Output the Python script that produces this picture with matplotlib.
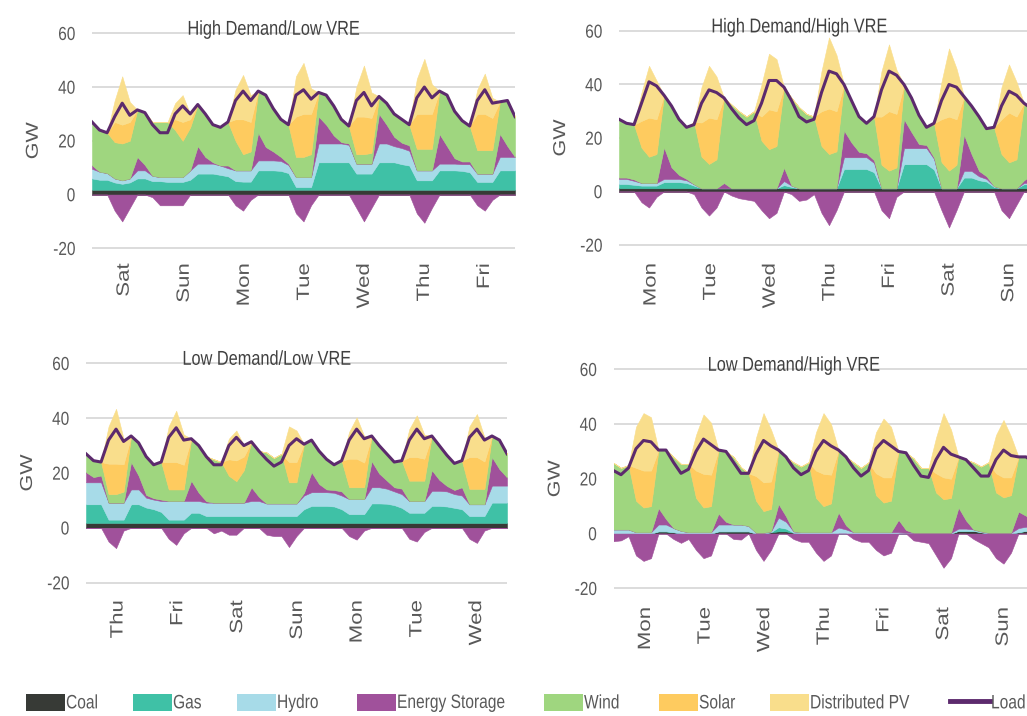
import matplotlib
matplotlib.use("Agg")
import matplotlib.pyplot as plt
from matplotlib.patches import Rectangle
from matplotlib.lines import Line2D
from matplotlib.patheffects import AbstractPathEffect
from matplotlib.transforms import Affine2D
import numpy as np

# one week, every 3 hours (hour 0 ... 168)
hours = np.arange(0, 169, 3)

# ---------------- High Demand / Low VRE ----------------
hdlv_days = ["Sat", "Sun", "Mon", "Tue", "Wed", "Thu", "Fri"]
hdlv_load = [27, 24, 23, 29, 34, 29.5, 31.5, 30.5,
             26, 23, 23, 30, 33, 30, 33.5, 30,
             26, 25, 27, 35, 38.5, 35, 38.5, 37,
             32, 28, 26, 37, 39, 35.5, 38, 37,
             33, 28, 25.5, 35, 38, 33, 36.5, 34,
             30, 28, 26, 36, 40, 36, 38.5, 37,
             31, 27.5, 25.5, 35, 39, 34, 34.5, 35,
             29]
hdlv_coal = [1.8] * 57
hdlv_gas = [4.2, 3.7, 3.7, 2.7, 2.2, 2.7, 4.2, 4.2,
            3.2, 3.2, 2.9, 2.9, 2.9, 3.7, 6, 6,
            6, 5.5, 5, 3.2, 3, 3, 7.2, 7.2,
            7.2, 7, 6.2, 1, 1, 1, 10.2, 10.2,
            10.2, 10.2, 10.2, 6, 6, 6, 10.2, 10.2,
            10.2, 9.5, 9, 3.5, 3.5, 3.5, 7.2, 7.2,
            7.2, 7, 6.5, 2.9, 2.9, 2.9, 7.2, 7.2,
            7.2]
hdlv_hydro = [3.6, 3, 2.5, 1.5, 1.3, 1.5, 3, 3,
              2, 1.5, 1.8, 1.8, 1.8, 3.5, 3.7, 3.7,
              3.7, 3.5, 3, 4, 4.2, 4.2, 3.7, 3.7,
              3.7, 3.7, 3, 3.7, 3.7, 3.7, 7, 7,
              7, 7, 6.5, 3.7, 3.7, 3.7, 7, 7,
              6, 6, 5.5, 3.7, 3.7, 3.7, 2.5, 2.5,
              2.5, 2.5, 3, 3.1, 3.1, 3.1, 5, 5,
              5]
hdlv_storage = [1.3, 0, 0, -6, -10, -5, 5, 2,
                -1, -4, -4, -4, -4, 0, 6.5, 2.5,
                0.5, 0, 1, -4, -6, -2, 10.3, 5,
                3.3, 1.5, 0.5, -7, -10, -4, 10, 7,
                3, 0.5, 0.5, -5, -10, -5, 11, 7,
                3.5, 2, 2, -7, -10.5, -5, 11, 6.5,
                2, 1, 1, -4, -6, -2, 8.6, 4,
                0]
hdlv_wind = [16.1, 15.5, 15, 13.5, 13.7, 14, 17.5, 19.5,
             20, 20.5, 20.5, 17.5, 13.5, 16, 15.5, 16,
             14, 14.2, 16.2, 11, 6, 7, 15.5, 19.3,
             16, 14, 14.5, 7.5, 7.5, 8.5, 9, 11,
             11, 8.5, 6.5, 3.5, 3.5, 4, 6.5, 8,
             8.5, 8.7, 7.7, 8, 8, 8, 16, 19,
             17.5, 15.2, 13.2, 8.7, 8.7, 8.7, 11.9, 17,
             15]
hdlv_solar = [0, 0, 0, 7.5, 7, 7, 0, 0,
              0, 0, 0, 4, 7, 3, 0, 0,
              0, 0, 0, 8, 13, 11, 0, 0,
              0, 0, 0, 15, 16, 15, 0, 0,
              0, 0, 0, 14, 14, 13, 0, 0,
              0, 0, 0, 13, 13, 13, 0, 0,
              0, 0, 0, 13.5, 13.5, 12, 0, 0,
              0]
hdlv_dpv = [0, 0, 0, 8, 18, 7.5, 0, 0,
            0, 0, 0, 6, 10, 2, 0, 0,
            0, 0, 0, 11, 16.5, 10, 0, 0,
            0, 0, 0, 15, 19, 9.5, 0, 0,
            0, 0, 0, 11, 19, 9.5, 0, 0,
            0, 0, 0, 13, 20.5, 11, 0, 0,
            0, 0, 0, 9, 15, 7.5, 0, 0,
            0]

# ---------------- High Demand / High VRE ----------------
hdhv_days = ["Mon", "Tue", "Wed", "Thu", "Fri", "Sat", "Sun"]
hdhv_load = [27, 25.5, 25, 33, 41, 39.5, 36, 32,
             27, 24, 25, 33, 38, 37, 35, 31,
             27.5, 25, 26.5, 33, 41.5, 41.5, 39, 34,
             28, 26, 27, 37, 45, 44, 40, 34,
             28, 25.5, 28, 38, 45, 43.5, 40, 35,
             28.5, 24, 25.5, 34, 40, 39, 35.5, 32,
             28, 23.5, 24, 32, 37.5, 36, 33, 31,
             30]
hdhv_coal = [1.2] * 57
hdhv_gas = [1.6, 1.6, 1.3, 1, 1, 1, 2.3, 2.3,
            2.3, 2, 1, 0, 0, 0, 0, 0,
            0, 0, 0, 0, 0, 0, 1.2, 0.5,
            0, 0, 0, 0, 0, 0, 7.2, 7.2,
            7.2, 7.2, 6, 0, 0, 0, 9, 9,
            9, 9, 7, 0, 0, 0, 4, 4,
            3, 2.5, 0.5, 0, 0, 0, 1.5, 1.5,
            1.5]
hdhv_hydro = [1.9, 1.9, 1.5, 1, 1, 1, 1.2, 1.2,
              1.2, 1, 0.5, 0, 0, 0, 0, 0,
              0, 0, 0, 0, 0, 0, 1.5, 0.5,
              0, 0, 0, 0, 0, 0, 4.4, 4.4,
              4.4, 4.4, 3.5, 0, 0, 0, 6, 6,
              6, 6, 4, 0, 0, 0, 2.5, 2.5,
              1.5, 1, 0.3, 0, 0, 0, 0.5, 0.5,
              0.5]
hdhv_storage = [0.5, 0.5, 0.5, -4, -6, -2, 11.8, 4.3,
                1.5, 0.5, -1, -6, -9, -6, 2, -1.5,
                -2.5, -3, -3.5, -7, -10, -8, 5, -1,
                -3.5, -3, -1, -8, -12.6, -7, 10, 5.5,
                2, 1.5, 1, -7, -10, -2, 10.8, 6,
                1.5, 1.2, 0.5, -7, -13.5, -7, 13.5, 6.3,
                2, 1, 0, -7, -10, -5, 1, 3,
                2]
hdhv_wind = [21.8, 20.3, 20.5, 13.2, 9.8, 10.8, 19.5, 23,
             20.8, 19.3, 23.3, 11.8, 9.1, 10.8, 31.8, 31.3,
             28.8, 26.8, 28.8, 17.8, 14.6, 15.8, 30.1, 32.8,
             30.3, 27.8, 26.8, 15.8, 12.8, 13.8, 17.2, 15.7,
             13.2, 11.2, 16.3, 8.8, 6.6, 7.8, 13, 12.8,
             10.8, 6.6, 12.8, 9.8, 6.6, 8.8, 14.3, 18,
             20.3, 17.8, 22, 12.8, 9.7, 10.8, 28.8, 24.8,
             24.8]
hdhv_solar = [0, 0, 0, 10, 14.6, 13, 0, 0,
              0, 0, 0, 12.8, 17.3, 15, 0, 0,
              0, 0, 0, 9, 14.9, 13, 0, 0,
              0, 0, 0, 13, 17, 15, 0, 0,
              0, 0, 0, 18, 22.2, 20, 0, 0,
              0, 0, 0, 16, 20.2, 17, 0, 0,
              0, 0, 0, 13, 18.6, 16, 0, 0,
              0]
hdhv_dpv = [0, 0, 0, 10.6, 19.4, 14.5, 0, 0,
            0, 0, 0, 13.2, 19.4, 16, 0, 0,
            0, 0, 0, 12, 20.8, 19.5, 0, 0,
            0, 0, 0, 15, 26.6, 21, 0, 0,
            0, 0, 0, 17, 25, 16.5, 0, 0,
            0, 0, 0, 14, 25.5, 19, 0, 0,
            0, 0, 0, 12, 18, 13, 0, 0,
            0]

# ---------------- Low Demand / Low VRE ----------------
ldlv_days = ["Thu", "Fri", "Sat", "Sun", "Mon", "Tue", "Wed"]
ldlv_load = [27, 24.5, 24, 32, 36, 31.5, 33.5, 31,
             26, 23, 24, 33, 36.5, 32, 32.5, 30,
             26, 23, 23, 30, 33, 30, 31.4, 28,
             25, 22.5, 24, 30, 32.5, 30.5, 32, 28,
             25, 23, 24.5, 32, 36, 32.5, 33.5, 30,
             27, 24, 24.5, 32, 36, 32.5, 33.5, 30,
             26.5, 23.5, 24.5, 33, 36, 32, 33.5, 32,
             27]
ldlv_coal = [1.8] * 57
ldlv_gas = [6.8, 6.8, 6.8, 1.2, 1.2, 1.2, 6.8, 6.8,
            5.6, 5, 4, 1.2, 1.2, 1.2, 3.7, 3.7,
            2.5, 2.5, 2.5, 2.5, 2.5, 2.5, 2.5, 2.5,
            2.5, 2.5, 2.5, 2.5, 2.5, 5, 6.2, 6.2,
            6.2, 6, 5, 3.2, 3.2, 3.2, 7.1, 7.1,
            7, 6.5, 5.5, 3.7, 3.7, 3.7, 6.2, 6.2,
            6, 5.5, 5, 2.5, 2.5, 2.5, 7.4, 7.4,
            7.4]
ldlv_hydro = [8, 8, 8, 6.2, 6.2, 6.2, 5.4, 5.4,
              3.6, 3.5, 4, 6.8, 6.8, 6.8, 4.3, 4.3,
              4.9, 4.9, 4.9, 4.9, 4.9, 4.9, 5.5, 5.5,
              4.6, 4.6, 4.6, 4.6, 4.6, 5, 5, 5,
              5, 5, 5, 5.5, 5.5, 5.5, 5.9, 5.9,
              5.5, 5, 5, 4.3, 4.3, 4.3, 5.5, 5.5,
              5.5, 5, 5, 4.3, 4.3, 4.3, 6.2, 6.2,
              6.2]
ldlv_storage = [3.7, 1.9, 2.5, -5, -7.4, -1, 10, 5,
                1, 0.5, 0.5, -4, -6.2, -2, 7.4, 3,
                0.5, -2, -1, -2.5, -2.5, 0, 5, 1.5,
                -2.5, -3, -3, -7, -3, 1, 7.3, 3,
                1, 1, 1.5, -3, -4.3, -1, 9.5, 5,
                3, 1.5, 2, -4, -5, -1.5, 7.5, 4,
                2, 1.5, 3, -4, -5.5, -1, 10.4, 6,
                3]
ldlv_wind = [6.7, 6, 4.9, 3.1, 3.1, 4, 9.5, 12,
             14, 12.2, 13.7, 4.2, 4.2, 4.2, 15.3, 17.2,
             16.3, 15.8, 14.8, 9.8, 7.8, 11.8, 16.6, 16.7,
             18.6, 16.6, 18.1, 7.7, 7.7, 17.7, 11.7, 12,
             11, 9.2, 11.2, 4.3, 4.3, 4.3, 9.2, 10.2,
             9.7, 9.2, 10.2, 7.4, 7.4, 7.4, 12.5, 12.5,
             11.2, 9.7, 9.7, 5.6, 5.6, 5.6, 7.7, 10.6,
             8.6]
ldlv_solar = [0, 0, 0, 11.1, 11.1, 10, 0, 0,
              0, 0, 0, 10, 10, 9, 0, 0,
              0, 0, 0, 6, 7.6, 5, 0, 0,
              0, 0, 0, 7.4, 7.4, 0, 0, 0,
              0, 0, 0, 10.4, 10.4, 9, 0, 0,
              0, 0, 0, 8.6, 8.6, 8, 0, 0,
              0, 0, 0, 11.6, 11.6, 10, 0, 0,
              0]
ldlv_dpv = [0, 0, 0, 13.6, 20, 9.3, 0, 0,
            0, 0, 0, 13, 18.7, 11, 0, 0,
            0, 0, 0, 7.5, 10.9, 4, 0, 0,
            0, 0, 0, 13, 11.5, 0, 0, 0,
            0, 0, 0, 9.8, 15.1, 9.7, 0, 0,
            0, 0, 0, 10.2, 15.2, 8.8, 0, 0,
            0, 0, 0, 11.2, 15.7, 8.8, 0, 0,
            0]

# ---------------- Low Demand / High VRE ----------------
ldhv_days = ["Mon", "Tue", "Wed", "Thu", "Fri", "Sat", "Sun"]
ldhv_load = [23, 21.5, 24, 31, 34, 33.5, 30.5, 30.5,
             26, 22, 23.5, 30, 34.5, 32.5, 30.5, 30,
             26, 22, 22, 29, 34, 32, 30.5, 28,
             24, 21.5, 23, 30, 34, 32, 30.5, 28,
             24, 21, 23, 31, 34, 32, 30, 29.5,
             25, 21, 20.5, 27, 31.5, 29, 28, 27,
             24, 21, 21, 27, 30.5, 28.5, 28, 28,
             26]
ldhv_coal = [0, 0, 0, 0, 0, 0, 0.8, 0.8,
             0.5, 0, 0, 0, 0, 0, 0.8, 0.8,
             0.8, 0.8, 0.8, 0, 0, 0.5, 0.8, 0.8,
             0.3, 0, 0, 0, 0, 0, 0, 0,
             0, 0, 0, 0, 0, 0, 0, 0,
             0, 0, 0, 0, 0, 0, 1, 1,
             1, 0.5, 0, 0, 0, 0, 0.5, 1,
             1]
ldhv_gas = [0, 0, 0, 0, 0, 0, 0, 0,
            0, 0, 0, 0, 0, 0, 0, 0,
            0, 0, 0, 0, 0, 0, 1.5, 1,
            0, 0, 0, 0, 0, 0, 0, 0,
            0, 0, 0, 0, 0, 0, 0, 0,
            0, 0, 0, 0, 0, 0, 0, 0,
            0, 0, 0, 0, 0, 0, 0, 0,
            0]
ldhv_hydro = [1.5, 1.5, 1.5, 0.5, 0.5, 0.5, 2.5, 2.5,
              1.5, 1, 0.5, 0.5, 0.5, 0.5, 2.5, 2.5,
              2.5, 2.5, 2, 0.3, 0.3, 0.3, 3.5, 2.5,
              0.5, 0.5, 0.5, 0.5, 0.5, 0.5, 2.2, 1.5,
              0.5, 0.5, 0.5, 0.5, 0.5, 0.5, 0.5, 0.3,
              0.3, 0.3, 0.3, 0.3, 0.3, 0.3, 0.8, 0.8,
              0.5, 0.3, 0.3, 0.3, 0.3, 0.3, 1.5, 1.5,
              1]
ldhv_storage = [-2.8, -2.5, -1, -8, -10, -9, 6, 2,
                -2, -3.4, -2, -6, -9, -8, 4, 1,
                -2, -2.2, 0, -6, -10, -6, 5, 2,
                -2, -3, -3, -7, -10, -8, 5.5, 1.5,
                -2, -3, -3, -6, -8, -7, 4.5, 1,
                -2.5, -3, -3.5, -8, -12.5, -9, 7.7, 3,
                -2, -3.5, -5, -9, -11, -7, 6, 4,
                2]
ldhv_wind = [24.3, 22.5, 23.5, 11.5, 9, 9.5, 21.2, 25.2,
             26, 24.4, 25, 12.5, 9, 9.5, 23.2, 25.7,
             24.7, 20.9, 19.2, 11.7, 7.9, 8.2, 19.7, 21.7,
             25.2, 24, 25.5, 12.5, 9.5, 10.5, 22.8, 25,
             25.5, 23.5, 25.5, 13.5, 10.8, 11.5, 25, 28.2,
             27.2, 23.7, 23.7, 14.7, 12.2, 12.7, 18.5, 22.2,
             24.5, 23.7, 25.7, 14.7, 12.9, 13.7, 20, 21.5,
             22]
ldhv_solar = [0, 0, 0, 12, 13.5, 13, 0, 0,
              0, 0, 0, 10, 12.3, 11.5, 0, 0,
              0, 0, 0, 9, 10.5, 10, 0, 0,
              0, 0, 0, 10, 11.8, 10.5, 0, 0,
              0, 0, 0, 8, 9.2, 8.5, 0, 0,
              0, 0, 0, 7, 8, 7, 0, 0,
              0, 0, 0, 7, 7.3, 6.5, 0, 0,
              0]
ldhv_dpv = [0, 0, 0, 15, 21, 19.5, 0, 0,
            0, 0, 0, 13, 21.7, 19, 0, 0,
            0, 0, 0, 14, 25.3, 19, 0, 0,
            0, 0, 0, 14, 22.2, 18.5, 0, 0,
            0, 0, 0, 15, 21.5, 18.5, 0, 0,
            0, 0, 0, 13, 23.5, 18, 0, 0,
            0, 0, 0, 14, 21, 15, 0, 0,
            0]

legend_names = ["Coal", "Gas", "Hydro", "Energy Storage", "Wind", "Solar",
                "Distributed PV", "Load"]
colors = ["#373a36", "#3fc1a6", "#a7dbe8", "#a0519b", "#9fd67f", "#fecb5f",
          "#f9de8c", "#5c2a6d"]

FONT = ["Liberation Sans", "DejaVu Sans"]
GREY = "#595959"


class Squeeze(AbstractPathEffect):
    # the source chart's lettering is tall and narrow: rescale the glyphs around an anchor
    def __init__(self, sx=1.0, sy=1.0, yanchor="center"):
        super().__init__()
        self.sx, self.sy, self.yanchor = sx, sy, yanchor

    def draw_path(self, renderer, gc, tpath, affine, rgbFace=None):
        ext = tpath.get_extents()
        cx = 0.5 * (ext.x0 + ext.x1)
        cy = 0.0 if self.yanchor == "base" else 0.5 * (ext.y0 + ext.y1)
        t = Affine2D().translate(-cx, -cy).scale(self.sx, self.sy).translate(cx, cy)
        renderer.draw_path(gc, tpath, t + affine, rgbFace)


W, H = 1027, 716
fig = plt.figure(figsize=(W / 100, H / 100), dpi=100)


def place(x0, x1, y60, ym20):
    # axes rectangle from pixel positions of hour 0 / 168 and the 60 / -20 gridlines
    ppg = (ym20 - y60) / 80.0
    top = y60 - 0.6 * ppg
    bot = ym20 + 0.6 * ppg
    return fig.add_axes([x0 / W, 1 - bot / H, (x1 - x0) / W, (bot - top) / H])


def panel(ax, title, days, coal, gas, hydro, storage, wind, solar, dpv, load, xpad):
    st = np.asarray(storage, dtype=float)
    st_pos = np.clip(st, 0, None)
    st_neg = np.clip(st, None, 0)
    ax.stackplot(hours, coal, gas, hydro, st_pos, wind, solar, dpv,
                 colors=colors[:7], linewidth=0.4, edgecolor="face", zorder=2)
    ax.fill_between(hours, st_neg, 0, facecolor=colors[3], edgecolor="face",
                    linewidth=0.4, zorder=2)
    ax.plot(hours, load, color=colors[7], lw=2.2, zorder=4, solid_joinstyle="round")

    ax.set_xlim(0, 168)
    ax.set_ylim(-20.6, 60.6)
    ax.set_yticks([-20, 0, 20, 40, 60])
    ax.set_yticklabels(["-20", "0", "20", "40", "60"], family=FONT, fontsize=11.1, color=GREY,
                       path_effects=[Squeeze(sy=1.22)])
    ax.set_xticks([13 + 23.85 * k for k in range(7)])
    ax.set_xticklabels(days, rotation=90, family=FONT, fontsize=16, color=GREY,
                       path_effects=[Squeeze(sy=0.8)])
    ax.tick_params(axis="y", length=0, pad=12)
    ax.tick_params(axis="x", length=0, pad=xpad)
    ax.grid(axis="y", color="#d9d9d9", lw=1.3, zorder=0)
    ax.set_axisbelow(True)
    for s in ax.spines.values():
        s.set_visible(False)
    ax.set_facecolor("none")
    ax.set_ylabel("GW", family=FONT, fontsize=15.5, color=GREY,
                  path_effects=[Squeeze(sy=0.8)])
    ax.yaxis.set_label_coords(-0.113, 0.5)
    ax.text(0.43, 0.986, title, transform=ax.transAxes, ha="center", va="baseline",
            family=FONT, fontsize=11.75, color="#404040", zorder=6,
            path_effects=[Squeeze(sy=1.23, yanchor="base")])


ax1 = place(92, 515, 33.3, 248.3)
panel(ax1, "High Demand/Low VRE", hdlv_days, hdlv_coal, hdlv_gas, hdlv_hydro,
      hdlv_storage, hdlv_wind, hdlv_solar, hdlv_dpv, hdlv_load, 9.5)

ax2 = place(619, 1039, 31, 245)
panel(ax2, "High Demand/High VRE", hdhv_days, hdhv_coal, hdhv_gas, hdhv_hydro,
      hdhv_storage, hdhv_wind, hdhv_solar, hdhv_dpv, hdhv_load, 11.8)

ax3 = place(86, 507, 363.3, 582.7)
panel(ax3, "Low Demand/Low VRE", ldlv_days, ldlv_coal, ldlv_gas, ldlv_hydro,
      ldlv_storage, ldlv_wind, ldlv_solar, ldlv_dpv, ldlv_load, 11.3)

ax4 = place(613.5, 1033.5, 369.3, 588.3)
panel(ax4, "Low Demand/High VRE", ldhv_days, ldhv_coal, ldhv_gas, ldhv_hydro,
      ldhv_storage, ldhv_wind, ldhv_solar, ldhv_dpv, ldhv_load, 12.2)

# legend along the bottom, drawn by hand to keep the original spacing
patch_left = [26, 133, 237, 357, 544, 659, 770]
tall = [Squeeze(sy=1.25)]
for name, col, x in zip(legend_names[:7], colors[:7], patch_left):
    fig.add_artist(Rectangle((x / W, 1 - 711 / H), 39 / W, 17 / H,
                             transform=fig.transFigure, facecolor=col, edgecolor="none"))
    fig.text((x + 40) / W, 1 - 702.5 / H, name, ha="left", va="center",
             family=FONT, fontsize=11.2, color=GREY, path_effects=tall)
fig.add_artist(Line2D([950 / W, 990 / W], [1 - 701 / H, 1 - 701 / H],
                      transform=fig.transFigure, color=colors[7], lw=3.5))
fig.text(991 / W, 1 - 702.5 / H, legend_names[7], ha="left", va="center",
         family=FONT, fontsize=11.2, color=GREY, path_effects=tall)

fig.savefig("out.png", dpi=100)
